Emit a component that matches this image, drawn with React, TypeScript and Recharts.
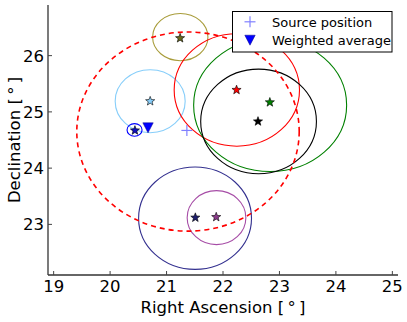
import React from 'react';
import * as RC from 'recharts';
import { ScatterChart, Scatter, XAxis, YAxis, ZAxis, Cell, Legend, Label } from 'recharts';

// ---------- data ----------
const xTicks = [19, 20, 21, 22, 23, 24, 25];
const yTicks = [23, 24, 25, 26];

const starRA = [21.24, 20.71, 20.44, 22.24, 22.83, 22.62, 21.51, 21.88];
const starDec = [26.31, 25.19, 24.67, 25.39, 25.17, 24.83, 23.12, 23.13];

const regionRA = [21.243, 20.71, 20.433, 22.245, 22.835, 22.63, 21.505, 21.885];
const regionDec = [26.33, 25.19, 24.68, 25.39, 25.12, 24.83, 23.11, 23.12];
const regionRadiusRA = [0.49, 0.62, 0.133, 1.11, 1.355, 1.025, 1.0, 0.52];
const regionRadiusDec = [0.42, 0.56, 0.112, 1.0, 1.18, 0.93, 0.91, 0.48];

const combinedRA = [21.38];
const combinedDec = [24.65];
const combinedRadiusRA = [1.97];
const combinedRadiusDec = [1.77];

const sourceRA = [21.36];
const sourceDec = [24.67];

const averageRA = [20.672];
const averageDec = [24.72];

const legendNames = ['Source position', 'Weighted average'];

// ---------- styles ----------
const regionColors = ['#a89c3a', '#87cefa', '#0000ff', '#ff0000', '#008000', '#000000', '#33308f', '#a64ca6'];
const starColors = ['#6b6b1f', '#87cefa', '#1010c0', '#ff0000', '#008000', '#000000', '#1f1f6e', '#8b3a8b'];

const W = 407;
const H = 322;
const MARGIN = { top: 5, right: 9, bottom: 0, left: 0 };
const Y_AXIS_W = 48;
const X_AXIS_H = 47;
const X_DOMAIN: [number, number] = [18.9, 25.1];
const Y_DOMAIN: [number, number] = [22.1, 26.9];
const FONT = "'DejaVu Sans', 'Liberation Sans', sans-serif";

const starData = starRA.map((ra, i) => ({ ra, dec: starDec[i] }));
const regionData = regionRA.map((ra, i) => ({ ra, dec: regionDec[i], rRA: regionRadiusRA[i], rDec: regionRadiusDec[i] }));
const combinedData = combinedRA.map((ra, i) => ({ ra, dec: combinedDec[i], rRA: combinedRadiusRA[i], rDec: combinedRadiusDec[i] }));
const sourceData = sourceRA.map((ra, i) => ({ ra, dec: sourceDec[i] }));
const averageData = averageRA.map((ra, i) => ({ ra, dec: averageDec[i] }));

const usePlotAreaSafe: () => any = (RC as any).usePlotArea ?? (() => null);

const EllipseShape = (props: any) => {
  const plot = usePlotAreaSafe();
  const pw = plot?.width ?? W - MARGIN.left - MARGIN.right - Y_AXIS_W;
  const ph = plot?.height ?? H - MARGIN.top - MARGIN.bottom - X_AXIS_H;
  const kx = pw / (X_DOMAIN[1] - X_DOMAIN[0]);
  const ky = ph / (Y_DOMAIN[1] - Y_DOMAIN[0]);
  const { cx, cy, payload, stroke, strokeDasharray, strokeWidth } = props;
  return (
    <ellipse
      cx={cx}
      cy={cy}
      rx={payload.rRA * kx}
      ry={payload.rDec * ky}
      fill="none"
      stroke={stroke}
      strokeWidth={strokeWidth}
      strokeDasharray={strokeDasharray}
    />
  );
};

const StarShape = (props: any) => {
  const { cx, cy, fill } = props;
  const R = 4.8;
  const r = R * 0.42;
  const pts: string[] = [];
  for (let k = 0; k < 10; k++) {
    const a = -Math.PI / 2 + (k * Math.PI) / 5;
    const rad = k % 2 === 0 ? R : r;
    pts.push(`${cx + rad * Math.cos(a)},${cy + rad * Math.sin(a)}`);
  }
  return <polygon points={pts.join(' ')} fill={fill} stroke="#000" strokeWidth={0.6} strokeLinejoin="miter" />;
};

const PlusShape = (props: any) => {
  const { cx, cy } = props;
  const s = 5.5;
  return (
    <g stroke="#8080ff" strokeWidth={1.2}>
      <line x1={cx - s} y1={cy} x2={cx + s} y2={cy} />
      <line x1={cx} y1={cy - s} x2={cx} y2={cy + s} />
    </g>
  );
};

const TriangleDown = (props: any) => {
  const { cx, cy } = props;
  const hw = 5.2;
  return (
    <polygon
      points={`${cx - hw},${cy - 4.8} ${cx + hw},${cy - 4.8} ${cx},${cy + 5.2}`}
      fill="#0000ff"
      stroke="#000080"
      strokeWidth={0.5}
    />
  );
};

const TICK_COLOR = '#444';
const TICK_LEN = 4;

const BottomTick = (props: any) => {
  const { x, y, payload } = props;
  return (
    <g>
      <line x1={x} y1={y} x2={x} y2={y - TICK_LEN} stroke={TICK_COLOR} strokeWidth={1} />
      <text x={x} y={y + 16.7} textAnchor="middle" fontSize={16.5} fill="#000" fontFamily={FONT}>
        {payload.value}
      </text>
    </g>
  );
};

const TopTick = (props: any) => {
  const { x, y } = props;
  return <line x1={x} y1={y} x2={x} y2={y + TICK_LEN} stroke={TICK_COLOR} strokeWidth={1} />;
};

const LeftTick = (props: any) => {
  const { x, y, payload } = props;
  return (
    <g>
      <line x1={x} y1={y} x2={x + TICK_LEN} y2={y} stroke={TICK_COLOR} strokeWidth={1} />
      <text x={x - 4} y={y + 6} textAnchor="end" fontSize={16.5} fill="#000" fontFamily={FONT}>
        {payload.value}
      </text>
    </g>
  );
};

const RightTick = (props: any) => {
  const { x, y } = props;
  return <line x1={x} y1={y} x2={x - TICK_LEN} y2={y} stroke={TICK_COLOR} strokeWidth={1} />;
};

const LegendBox = () => (
  <svg width={161} height={42} style={{ display: 'block', fontFamily: FONT }}>
    <rect x={0.5} y={0.5} width={159.5} height={40.5} fill="#fff" stroke="#000" strokeWidth={1} />
    <g stroke="#8080ff" strokeWidth={1.2}>
      <line x1={12.5} y1={10.8} x2={23.5} y2={10.8} />
      <line x1={18} y1={5.3} x2={18} y2={16.3} />
    </g>
    <text x={40} y={15.8} fontSize={13} fill="#000">{legendNames[0]}</text>
    <polygon points="12.8,24.2 23.2,24.2 18,34.2" fill="#0000ff" stroke="#000080" strokeWidth={0.5} />
    <text x={40} y={33.6} fontSize={13} fill="#000">{legendNames[1]}</text>
  </svg>
);

const axisLine = { stroke: '#333', strokeWidth: 1.3 };

export default function App() {
  return (
    <div style={{ position: 'absolute', left: 0, top: 0, width: W, height: H, background: '#fff' }}>
      <ScatterChart width={W} height={H} margin={MARGIN} style={{ fontFamily: FONT }}>
        <XAxis
          xAxisId="b"
          dataKey="ra"
          type="number"
          domain={X_DOMAIN}
          ticks={xTicks}
          allowDataOverflow
          orientation="bottom"
          height={X_AXIS_H}
          tickSize={0}
          tickMargin={0}
          tickLine={false}
          axisLine={axisLine}
          tick={<BottomTick />}
          interval={0}
        >
          <Label value={'Right Ascension [\u2009\u00b0\u2009]'} position="insideBottom" offset={9.5} style={{ fontSize: 16.5, fill: '#000', fontFamily: FONT }} />
        </XAxis>
        <XAxis
          xAxisId="t"
          dataKey="ra"
          type="number"
          domain={X_DOMAIN}
          ticks={xTicks}
          allowDataOverflow
          orientation="top"
          height={0}
          tickSize={0}
          tickMargin={0}
          tickLine={false}
          axisLine={{ stroke: '#000', strokeWidth: 1.3 }}
          tick={<TopTick />}
          interval={0}
        />
        <YAxis
          yAxisId="l"
          dataKey="dec"
          type="number"
          domain={Y_DOMAIN}
          ticks={yTicks}
          allowDataOverflow
          orientation="left"
          width={Y_AXIS_W}
          tickSize={0}
          tickMargin={0}
          tickLine={false}
          axisLine={axisLine}
          tick={<LeftTick />}
          interval={0}
        >
          <Label value={'Declination [\u2009\u00b0\u2009]'} angle={-90} position="insideLeft" offset={13.7} style={{ fontSize: 16.5, fill: '#000', fontFamily: FONT, textAnchor: 'middle' }} />
        </YAxis>
        <YAxis
          yAxisId="r"
          dataKey="dec"
          type="number"
          domain={Y_DOMAIN}
          ticks={yTicks}
          allowDataOverflow
          orientation="right"
          width={0}
          tickSize={0}
          tickMargin={0}
          tickLine={false}
          axisLine={axisLine}
          tick={<RightTick />}
          interval={0}
        />
        <ZAxis range={[30, 30]} />
        <Scatter
          name="regions"
          data={regionData}
          xAxisId="b"
          yAxisId="l"
          isAnimationActive={false}
          shape={(p: any) => <EllipseShape {...p} />}
          strokeWidth={1.1}
          legendType="none"
        >
          {regionData.map((_, i) => (
            <Cell key={i} stroke={regionColors[i]} />
          ))}
        </Scatter>
        <Scatter
          name="combined"
          data={combinedData}
          xAxisId="b"
          yAxisId="l"
          isAnimationActive={false}
          shape={(p: any) => <EllipseShape {...p} />}
          stroke="#ff0000"
          strokeWidth={1.6}
          strokeDasharray="5 4"
          legendType="none"
        />
        <Scatter
          name="stars"
          data={starData}
          xAxisId="b"
          yAxisId="l"
          isAnimationActive={false}
          shape={(p: any) => <StarShape {...p} />}
          legendType="none"
        >
          {starData.map((_, i) => (
            <Cell key={i} fill={starColors[i]} />
          ))}
        </Scatter>
        <Scatter
          name={legendNames[0]}
          data={sourceData}
          xAxisId="b"
          yAxisId="l"
          isAnimationActive={false}
          shape={(p: any) => <PlusShape {...p} />}
        />
        <Scatter
          name={legendNames[1]}
          data={averageData}
          xAxisId="b"
          yAxisId="l"
          isAnimationActive={false}
          shape={(p: any) => <TriangleDown {...p} />}
        />
        <Legend
          layout="horizontal"
          verticalAlign="middle"
          align="center"
          content={() => <LegendBox />}
          wrapperStyle={{ position: 'absolute', left: 232, top: 11, width: 161, height: 42, margin: 0, padding: 0 }}
        />
      </ScatterChart>
    </div>
  );
}
